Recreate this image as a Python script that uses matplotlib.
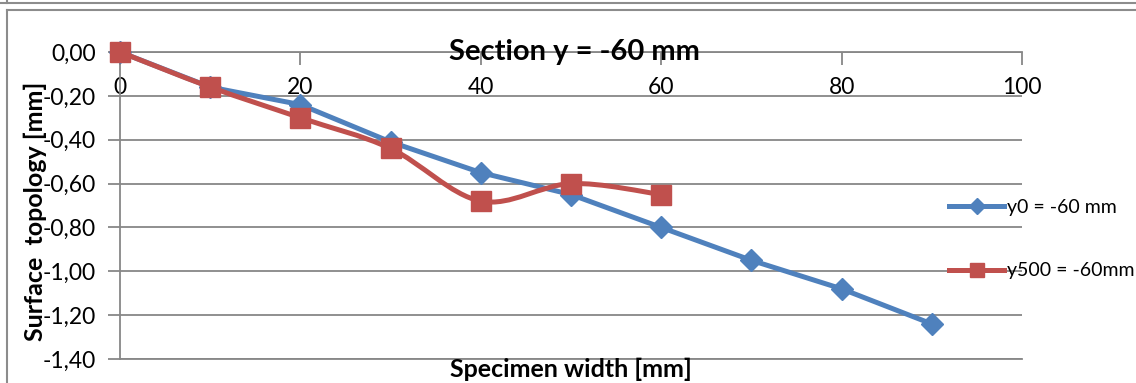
import matplotlib
matplotlib.use("Agg")
import matplotlib.pyplot as plt
from matplotlib.path import Path
from matplotlib.patches import PathPatch
from matplotlib.lines import Line2D
from matplotlib.ticker import FuncFormatter

# ---- data ----
x_y0 = [0, 10, 20, 30, 40, 50, 60, 70, 80, 90]
v_y0 = [0.00, -0.16, -0.24, -0.41, -0.55, -0.65, -0.80, -0.95, -1.08, -1.24]
x_y500 = [0, 10, 20, 30, 40, 50, 60]
v_y500 = [0.00, -0.16, -0.30, -0.44, -0.68, -0.60, -0.65]
label_y0 = "y0 = -60 mm"
label_y500 = "y500 = -60mm"
title = "Section y = -60 mm"
xlabel = "Specimen width [mm]"
ylabel = "Surface  topology [mm]"
xticks = [0, 20, 40, 60, 80, 100]
yticks = [0.0, -0.2, -0.4, -0.6, -0.8, -1.0, -1.2, -1.4]

BLUE = "#4F81BD"
RED = "#C0504D"
GRID = "#878787"
FONT = ["Lato", "DejaVu Sans"]
plt.rcParams["font.family"] = FONT

W, H = 1136, 383
fig = plt.figure(figsize=(W / 100, H / 100), dpi=100)
ax = fig.add_axes([120 / W, 1 - 359 / H, (1022 - 120) / W, (359 - 52) / H])
ax.set_xlim(0, 100)
ax.set_ylim(-1.4, 0)

# spines
for s in ["left", "top", "bottom"]:
    ax.spines[s].set_color(GRID)
    ax.spines[s].set_linewidth(1.3)
ax.spines["right"].set_visible(False)

ax.set_yticks(yticks)
ax.yaxis.grid(True, color=GRID, linewidth=1.3)
ax.set_axisbelow(True)
ax.yaxis.set_major_formatter(FuncFormatter(lambda v, p: f"{v:.2f}".replace(".", ",")))
ax.tick_params(axis="y", direction="out", length=9, color=GRID, width=1.3,
               labelsize=16.5, pad=8.5)

ax.set_xticks(xticks)
ax.xaxis.set_major_formatter(FuncFormatter(lambda v, p: f"{int(v)}"))
ax.tick_params(axis="x", top=True, bottom=False, labeltop=True, labelbottom=False,
               direction="in", length=9, color=GRID, width=1.3, labelsize=16.5, pad=-33)

# blue: straight line
ax.plot(x_y0, v_y0, color=BLUE, linewidth=3.6, marker="D", markersize=11,
        markerfacecolor=BLUE, markeredgecolor=BLUE, zorder=3, clip_on=False)

# red: smoothed line (Bezier through data points)
pts = list(zip(x_y500, v_y500))
verts = [pts[0]]
codes = [Path.MOVETO]
n = len(pts)
for i in range(n - 1):
    p0 = pts[i - 1] if i > 0 else pts[i]
    p1 = pts[i]
    p2 = pts[i + 1]
    p3 = pts[i + 2] if i + 2 < n else pts[i + 1]
    c1 = (p1[0] + (p2[0] - p0[0]) / 6, p1[1] + (p2[1] - p0[1]) / 6)
    c2 = (p2[0] - (p3[0] - p1[0]) / 6, p2[1] - (p3[1] - p1[1]) / 6)
    verts += [c1, c2, p2]
    codes += [Path.CURVE4] * 3
patch = PathPatch(Path(verts, codes), facecolor="none", edgecolor=RED,
                  linewidth=3.6, zorder=4, capstyle="round", joinstyle="round")
ax.add_patch(patch)
ax.plot(x_y500, v_y500, linestyle="none", marker="s", markersize=14,
        markerfacecolor=RED, markeredgecolor=RED, zorder=5, clip_on=False)

# legend
handles = [
    Line2D([], [], color=BLUE, linewidth=3.6, marker="D", markersize=8),
    Line2D([], [], color=RED, linewidth=3.6, marker="s", markersize=10),
]
fig.legend(handles, [label_y0, label_y500], loc="center left",
           bbox_to_anchor=(949 / W, 1 - 239 / H), frameon=False, fontsize=14,
           handlelength=2.85, handletextpad=0.13, labelspacing=2.4, numpoints=1,
           borderpad=0, borderaxespad=0)

# titles
fig.text(574 / W, 1 - 52 / H, title, ha="center", va="center", fontsize=21,
         fontweight="bold")
fig.text(571 / W, 1 - 369 / H, xlabel, ha="center", va="center", fontsize=18,
         fontweight="bold")
fig.text(35 / W, 1 - 211 / H, ylabel, ha="center", va="center", fontsize=18,
         fontweight="bold", rotation=90)

# outer frame lines
fig.add_artist(Line2D([0, 1], [1 - 3 / H, 1 - 3 / H], color="#8C8C8C", linewidth=1.5))
fig.add_artist(Line2D([7 / W, 7 / W], [1, 1 - 3 / H], color="#8C8C8C", linewidth=1.5))
fig.add_artist(Line2D([7 / W, 1], [1 - 10 / H, 1 - 10 / H], color="#8C8C8C", linewidth=1.5))
fig.add_artist(Line2D([7 / W, 7 / W], [1 - 10 / H, 0], color="#8C8C8C", linewidth=1.5))

fig.savefig("out.png", dpi=100)
